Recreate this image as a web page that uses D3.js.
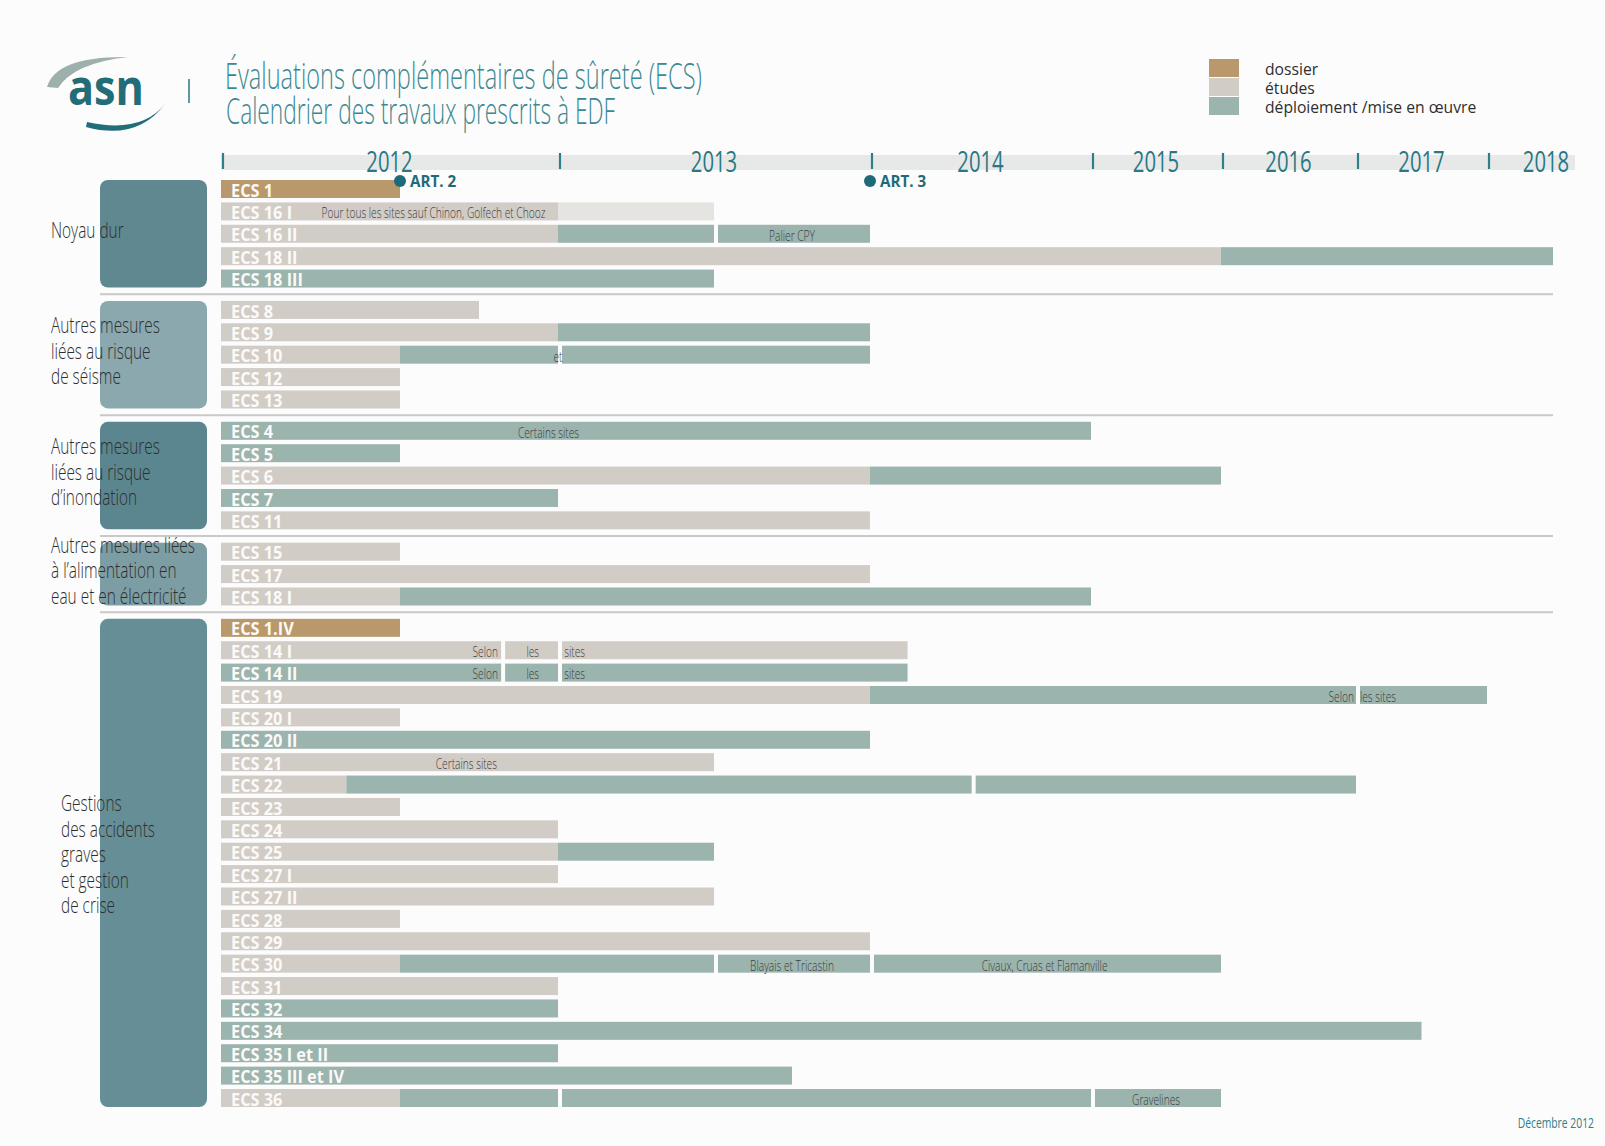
<!DOCTYPE html>
<html><head><meta charset="utf-8">
<script src="https://cdn.jsdelivr.net/npm/d3@7"></script>
<style>
html,body{margin:0;padding:0;background:#fcfcfc;}
svg{display:block;font-family:"Open Sans","DejaVu Sans",sans-serif;}
</style></head>
<body>
<svg id="chart" width="1605" height="1146"></svg>
<script>
// ---------- DATA ----------
const years = [2012, 2013, 2014, 2015, 2016, 2017, 2018];
const phaseNames = ["dossier", "etudes", "deploiement"];
const legendLabels = ["dossier", "études", "déploiement /mise en œuvre"];
const groupLabels = [
  ["Noyau dur"],
  ["Autres mesures", "liées au risque", "de séisme"],
  ["Autres mesures", "liées au risque", "d’inondation"],
  ["Autres mesures liées", "à l’alimentation en", "eau et en électricité"],
  ["Gestions", "des accidents", "graves", "et gestion", "de crise"]
];
const groupRows = [
  ["ECS 1", "ECS 16 I", "ECS 16 II", "ECS 18 II", "ECS 18 III"],
  ["ECS 8", "ECS 9", "ECS 10", "ECS 12", "ECS 13"],
  ["ECS 4", "ECS 5", "ECS 6", "ECS 7", "ECS 11"],
  ["ECS 15", "ECS 17", "ECS 18 I"],
  ["ECS 1.IV", "ECS 14 I", "ECS 14 II", "ECS 19", "ECS 20 I", "ECS 20 II", "ECS 21", "ECS 22",
   "ECS 23", "ECS 24", "ECS 25", "ECS 27 I", "ECS 27 II", "ECS 28", "ECS 29", "ECS 30",
   "ECS 31", "ECS 32", "ECS 34", "ECS 35 I et II", "ECS 35 III et IV", "ECS 36"]
];
// [row, phase, start (year), end (year)]
const segments = [
  ["ECS 1", "dossier", 2012, 2012.5],
  ["ECS 16 I", "etudes", 2012, 2013], ["ECS 16 I", "etudesClair", 2013, 2013.5],
  ["ECS 16 II", "etudes", 2012, 2013], ["ECS 16 II", "deploiement", 2013, 2013.5], ["ECS 16 II", "deploiement", 2013.5, 2014],
  ["ECS 18 II", "etudes", 2012, 2016], ["ECS 18 II", "deploiement", 2016, 2018.5],
  ["ECS 18 III", "deploiement", 2012, 2013.5],
  ["ECS 8", "etudes", 2012, 2012.75],
  ["ECS 9", "etudes", 2012, 2013], ["ECS 9", "deploiement", 2013, 2014],
  ["ECS 10", "etudes", 2012, 2012.5], ["ECS 10", "deploiement", 2012.5, 2013], ["ECS 10", "deploiement", 2013, 2014],
  ["ECS 12", "etudes", 2012, 2012.5],
  ["ECS 13", "etudes", 2012, 2012.5],
  ["ECS 4", "deploiement", 2012, 2015],
  ["ECS 5", "deploiement", 2012, 2012.5],
  ["ECS 6", "etudes", 2012, 2014], ["ECS 6", "deploiement", 2014, 2016],
  ["ECS 7", "deploiement", 2012, 2013],
  ["ECS 11", "etudes", 2012, 2014],
  ["ECS 15", "etudes", 2012, 2012.5],
  ["ECS 17", "etudes", 2012, 2014],
  ["ECS 18 I", "etudes", 2012, 2012.5], ["ECS 18 I", "deploiement", 2012.5, 2015],
  ["ECS 1.IV", "dossier", 2012, 2012.5],
  ["ECS 14 I", "etudes", 2012, 2012.82], ["ECS 14 I", "etudes", 2012.82, 2013], ["ECS 14 I", "etudes", 2013, 2014.17],
  ["ECS 14 II", "deploiement", 2012, 2012.82], ["ECS 14 II", "deploiement", 2012.82, 2013], ["ECS 14 II", "deploiement", 2013, 2014.17],
  ["ECS 19", "etudes", 2012, 2014], ["ECS 19", "deploiement", 2014, 2017], ["ECS 19", "deploiement", 2017, 2018],
  ["ECS 20 I", "etudes", 2012, 2012.5],
  ["ECS 20 II", "deploiement", 2012, 2014],
  ["ECS 21", "etudes", 2012, 2013.5],
  ["ECS 22", "etudes", 2012, 2012.35], ["ECS 22", "deploiement", 2012.35, 2014.46], ["ECS 22", "deploiement", 2014.46, 2017],
  ["ECS 23", "etudes", 2012, 2012.5],
  ["ECS 24", "etudes", 2012, 2013],
  ["ECS 25", "etudes", 2012, 2013], ["ECS 25", "deploiement", 2013, 2013.5],
  ["ECS 27 I", "etudes", 2012, 2013],
  ["ECS 27 II", "etudes", 2012, 2013.5],
  ["ECS 28", "etudes", 2012, 2012.5],
  ["ECS 29", "etudes", 2012, 2014],
  ["ECS 30", "etudes", 2012, 2012.5], ["ECS 30", "deploiement", 2012.5, 2013.5], ["ECS 30", "deploiement", 2013.5, 2014], ["ECS 30", "deploiement", 2014, 2016],
  ["ECS 31", "etudes", 2012, 2013],
  ["ECS 32", "deploiement", 2012, 2013],
  ["ECS 34", "deploiement", 2012, 2017.5],
  ["ECS 35 I et II", "deploiement", 2012, 2013],
  ["ECS 35 III et IV", "deploiement", 2012, 2013.75],
  ["ECS 36", "etudes", 2012, 2012.5], ["ECS 36", "deploiement", 2012.5, 2013], ["ECS 36", "deploiement", 2013, 2015], ["ECS 36", "deploiement", 2015, 2016]
];
// [row, text, at (year), anchor]
const notes = [
  ["ECS 16 I", "Pour tous les sites sauf Chinon, Golfech et Chooz", 2012.96, "end"],
  ["ECS 16 II", "Palier CPY", 2013.75, "middle"],
  ["ECS 10", "et", 2013.0, "middle"],
  ["ECS 4", "Certains sites", 2012.97, "middle"],
  ["ECS 14 I", "Selon", 2012.81, "end"], ["ECS 14 I", "les", 2012.92, "middle"], ["ECS 14 I", "sites", 2013.02, "start"],
  ["ECS 14 II", "Selon", 2012.81, "end"], ["ECS 14 II", "les", 2012.92, "middle"], ["ECS 14 II", "sites", 2013.02, "start"],
  ["ECS 19", "Selon", 2016.985, "end"], ["ECS 19", "les sites", 2017.03, "start"],
  ["ECS 21", "Certains sites", 2012.71, "middle"],
  ["ECS 30", "Blayais et Tricastin", 2013.75, "middle"],
  ["ECS 30", "Civaux, Cruas et Flamanville", 2014.79, "middle"],
  ["ECS 36", "Gravelines", 2015.5, "middle"]
];
const milestones = [["ART. 2", 2012.5], ["ART. 3", 2014]];

// ---------- STYLE ----------
const phaseColor = {dossier: "#b9996b", etudes: "#d2ccc7", etudesClair: "#e6e4e1", deploiement: "#9bb4ae"};
const groupColor = ["#5f8891", "#8aa8ae", "#5b8690", "#7d9da4", "#658e96"];

const svg = d3.select("#chart");
svg.append("rect").attr("width", 1605).attr("height", 1146).attr("fill", "#fcfcfc");

// piecewise time scale (the original timeline is not uniform)
const x = d3.scaleLinear()
  .domain([2012, 2012.5, 2013, 2014, 2015, 2016, 2017, 2018, 2018.5, 2019])
  .range([221, 400, 558, 870, 1091, 1221, 1356, 1487, 1553, 1605]);

// rows with gaps between groups
const rows = [];
groupRows.forEach((g, gi) => g.forEach(r => rows.push({label: r, group: gi, slot: rows.length + gi * 0.4})));
const lastSlot = rows[rows.length - 1].slot;
const y = d3.scaleLinear().domain([0, lastSlot]).range([189, 1098]);
const rowY = {};
rows.forEach(r => rowY[r.label] = y(r.slot));
const barH = 18;

function ctext(parent, px, py, str, o) {
  const t = parent.append("text")
    .attr("transform", `translate(${px},${py}) scale(${o.sx || 1},1)`)
    .attr("text-anchor", o.anchor || "start")
    .attr("font-size", o.size)
    .attr("font-weight", o.weight || 400)
    .attr("fill", o.fill || "#333")
    .text(str);
  if (o.family) t.attr("font-family", o.family);
  if (o.baseline) t.attr("dominant-baseline", o.baseline);
  return t;
}

// ---------- LOGO & TITLE ----------
const logo = svg.append("g");
logo.append("path").attr("d", "M47,87 Q56,56 128,57 Q74,63 58,88 Z").attr("fill", "#9eb0ab");
logo.append("text").attr("x", 68).attr("y", 105).attr("font-size", 50).attr("font-weight", 700)
  .attr("fill", "#236d78").attr("textLength", 76).attr("lengthAdjust", "spacingAndGlyphs").text("asn");
logo.append("path").attr("d", "M86,127 Q137,141 165,104 Q141,134 87,122 Z").attr("fill", "#236d78");
logo.append("line").attr("x1", 189).attr("x2", 189).attr("y1", 79).attr("y2", 103)
  .attr("stroke", "#5d9aa0").attr("stroke-width", 2);

svg.append("text").attr("x", 225).attr("y", 89).attr("font-size", 36).attr("font-weight", 300)
  .attr("fill", "#3a8891").attr("textLength", 477).attr("lengthAdjust", "spacingAndGlyphs")
  .text("Évaluations complémentaires de sûreté (ECS)");
svg.append("text").attr("x", 226).attr("y", 124).attr("font-size", 36).attr("font-weight", 300)
  .attr("fill", "#3a8891").attr("textLength", 389).attr("lengthAdjust", "spacingAndGlyphs")
  .text("Calendrier des travaux prescrits à EDF");

// ---------- LEGEND ----------
const leg = svg.append("g");
phaseNames.forEach((p, i) => {
  leg.append("rect").attr("x", 1209).attr("y", 59 + i * 19).attr("width", 30).attr("height", 18)
    .attr("fill", phaseColor[p]);
  ctext(leg, 1265, 69 + i * 19, legendLabels[i], {size: 16, sx: 0.98, fill: "#2e2e2e", baseline: "central"});
});

// ---------- TIME AXIS ----------
const axis = svg.append("g");
axis.append("rect").attr("x", x(2012)).attr("y", 155).attr("width", 1575 - x(2012)).attr("height", 15)
  .attr("fill", "#e7e9e9");
years.forEach(yr => {
  const tx = x(yr) + 2;
  axis.append("line").attr("x1", tx).attr("x2", tx).attr("y1", 153).attr("y2", 169)
    .attr("stroke", "#2f7f89").attr("stroke-width", 2.2);
  ctext(axis, (x(yr) + x(yr + 1)) / 2, 172, String(yr), {size: 29, weight: 400, sx: 0.7, anchor: "middle", fill: "#2a7883"});
});

// ---------- GROUP BOXES & LABELS ----------
const grp = svg.append("g");
groupRows.forEach((g, gi) => {
  const y0 = rowY[g[0]] - barH / 2, y1 = rowY[g[g.length - 1]] + barH / 2;
  grp.append("rect").attr("x", 100).attr("y", y0).attr("width", 107).attr("height", y1 - y0)
    .attr("rx", 8).attr("fill", groupColor[gi]);
  const lines = groupLabels[gi];
  const cy = (rowY[g[0]] + rowY[g[g.length - 1]]) / 2 - (gi === 4 ? 9 : 4);
  const lx = gi === 4 ? 61 : 51;
  lines.forEach((ln, li) => {
    ctext(grp, lx, cy + (li - (lines.length - 1) / 2) * 25.5, ln,
      {size: 22, weight: 300, sx: 0.7, fill: "#2e2e2e", baseline: "central"});
  });
  if (gi > 0) {
    const prevLast = groupRows[gi - 1][groupRows[gi - 1].length - 1];
    const sy = (rowY[prevLast] + rowY[g[0]]) / 2;
    grp.append("line").attr("x1", 100).attr("x2", x(2018.5)).attr("y1", sy).attr("y2", sy)
      .attr("stroke", "#c9c9c9").attr("stroke-width", 2);
  }
});

// ---------- BARS ----------
const bars = svg.append("g");
segments.forEach((s, i) => {
  const prev = segments[i - 1];
  const gap = prev && prev[0] === s[0] && prev[1] === s[1] && prev[3] === s[2] ? 4 : 0;
  const x0 = x(s[2]) + gap, x1 = x(s[3]);
  bars.append("rect").attr("x", x0).attr("y", rowY[s[0]] - barH / 2)
    .attr("width", x1 - x0).attr("height", barH).attr("fill", phaseColor[s[1]]);
});
// row labels
rows.forEach(r => {
  ctext(bars, x(2012) + 10, rowY[r.label] + 1, r.label, {size: 17, weight: 700, sx: 0.96, fill: "#fbfaf8", baseline: "central"});
});
// notes
notes.forEach(n => {
  ctext(bars, x(n[2]), rowY[n[0]] + 1, n[1], {size: 15, weight: 300, sx: 0.68, anchor: n[3], fill: "#3d3d3d", baseline: "central"});
});

// ---------- MILESTONES ----------
milestones.forEach(m => {
  const mx = x(m[1]);
  svg.append("circle").attr("cx", mx).attr("cy", 181).attr("r", 6).attr("fill", "#1f6a78");
  ctext(svg, mx + 10, 187, m[0], {size: 16, weight: 700, sx: 0.95, fill: "#1f6a78"});
});

// ---------- FOOTER ----------
ctext(svg, 1594, 1128, "Décembre 2012", {size: 14, weight: 400, sx: 0.74, anchor: "end", fill: "#2f7f89"});
</script>
</body></html>
